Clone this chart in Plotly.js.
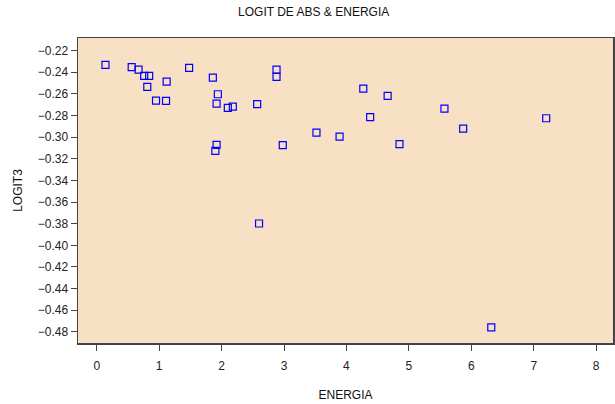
<!DOCTYPE html>
<html>
<head>
<meta charset="utf-8">
<script src="https://cdn.plot.ly/plotly-3.0.1.min.js"></script>
<style>
  html, body { margin: 0; padding: 0; background: #ffffff; }
  #chart { width: 615px; height: 404px; }
</style>
</head>
<body>
<div id="chart"></div>
<script>
// ENERGIA values and their LOGIT3 values
const energia = [
  0.14, 0.56, 0.67, 0.76, 0.84, 0.81, 1.12, 0.95, 1.11, 1.48,
  1.86, 1.94, 1.92, 2.10, 2.18, 2.57, 1.92, 1.90, 2.60, 2.88,
  2.88, 4.27, 4.66, 4.38, 3.52, 3.89, 2.98, 4.85, 5.57, 5.87,
  7.20, 6.32
];
const logit3 = [
  -0.2332, -0.2353, -0.2375, -0.2434, -0.2434, -0.2535, -0.2486, -0.2662, -0.2665, -0.2360,
  -0.2449, -0.2603, -0.2690, -0.2729, -0.2717, -0.2695, -0.3071, -0.3127, -0.3798, -0.2375,
  -0.2443, -0.2551, -0.2618, -0.2815, -0.2958, -0.2994, -0.3074, -0.3065, -0.2736, -0.2920,
  -0.2825, -0.4759
];
const xTicks = [0, 1, 2, 3, 4, 5, 6, 7, 8];
const yTicks = [-0.22, -0.24, -0.26, -0.28, -0.30, -0.32, -0.34, -0.36, -0.38, -0.40,
                -0.42, -0.44, -0.46, -0.48];

const FONT = '"Liberation Sans Narrow", "Arial Narrow", "Liberation Sans", Arial, sans-serif';

const trace = {
  type: 'scatter',
  mode: 'markers',
  x: energia,
  y: logit3,
  marker: {
    symbol: 'square-open',
    size: 7,
    color: '#0000ff',
    line: { width: 1.2, color: '#0000ff' }
  },
  hoverinfo: 'x+y'
};

const layout = {
  width: 615,
  height: 404,
  margin: { l: 78, r: 2, t: 38, b: 61 },
  paper_bgcolor: '#ffffff',
  plot_bgcolor: '#f8e0c4',
  font: { family: FONT, size: 12, color: '#111111' },
  showlegend: false,
  title: {
    text: 'LOGIT DE ABS & ENERGIA',
    x: 0.51, xanchor: 'center',
    y: 0.97, yanchor: 'middle',
    font: { family: FONT, size: 12, color: '#111111' }
  },
  xaxis: {
    range: [-0.3, 8.27],
    tickvals: xTicks,
    ticktext: xTicks.map(String),
    ticks: 'outside', ticklen: 6, tickwidth: 1, tickcolor: '#444444',
    ticklabelstandoff: 5,
    showgrid: false, zeroline: false,
    showline: true, linecolor: '#444444', linewidth: 1.5, mirror: true,
    tickfont: { family: FONT, size: 12, color: '#222222' },
    title: { text: 'ENERGIA', standoff: 18, font: { family: FONT, size: 12, color: '#111111' } }
  },
  yaxis: {
    range: [-0.4903, -0.2083],
    tickvals: yTicks,
    ticktext: yTicks.map(v => '\u2212' + Math.abs(v).toFixed(2)),
    ticks: 'outside', ticklen: 6, tickwidth: 1, tickcolor: '#444444',
    showgrid: false, zeroline: false,
    showline: true, linecolor: '#444444', linewidth: 1.5, mirror: true,
    tickfont: { family: FONT, size: 12, color: '#222222' },
    title: { text: 'LOGIT3', standoff: 12, font: { family: FONT, size: 12, color: '#111111' } }
  }
};

Plotly.newPlot('chart', [trace], layout, { displayModeBar: false, staticPlot: true });
</script>
</body>
</html>
